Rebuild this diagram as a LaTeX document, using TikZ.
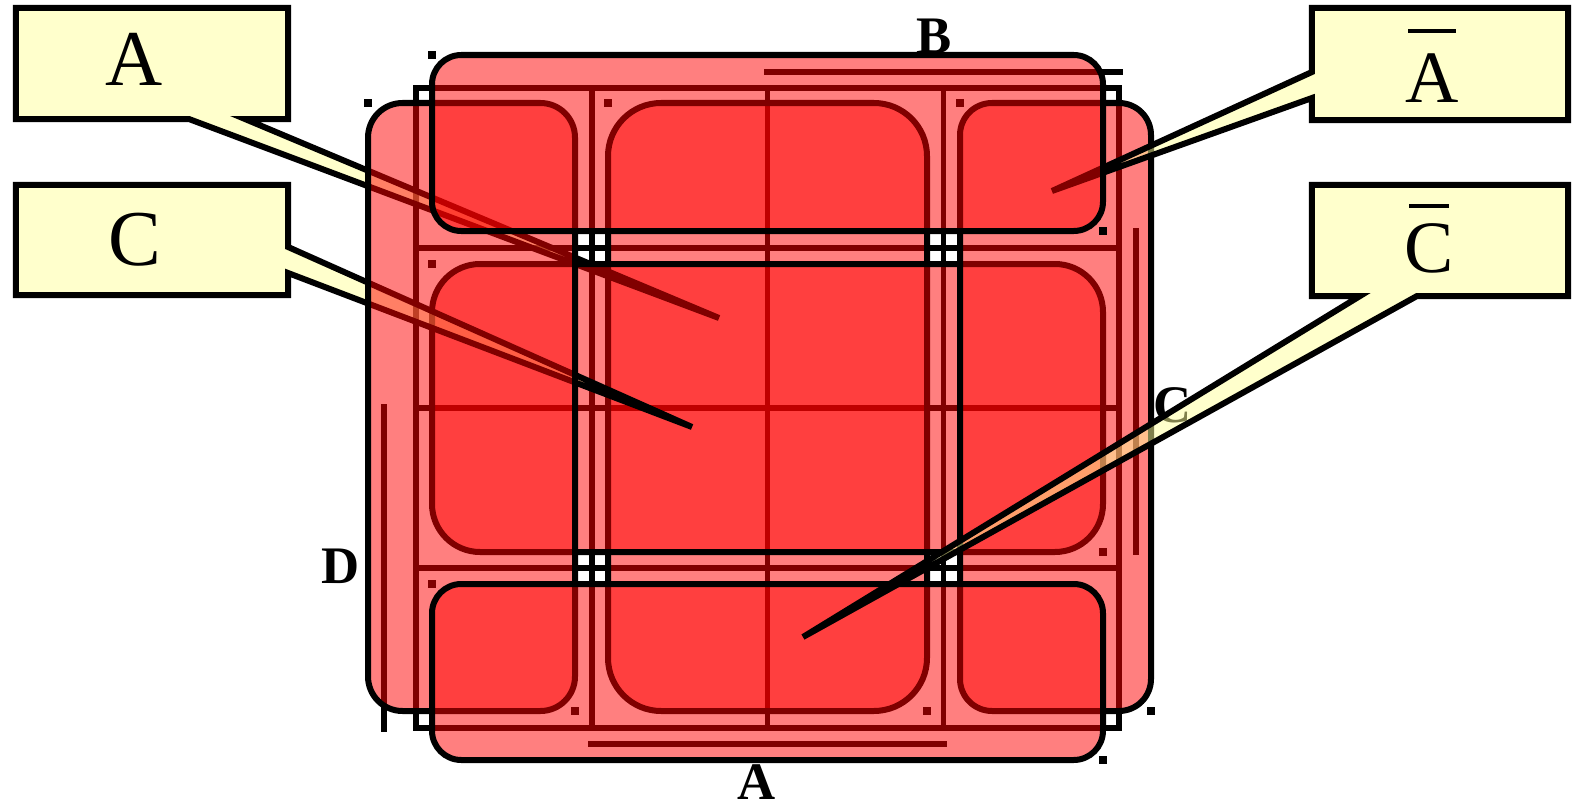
\documentclass[tikz,border=0pt]{standalone}
\usepackage{fontspec}
\setmainfont{Liberation Serif}
\usepackage{tikz}
\usetikzlibrary{calc}
\definecolor{groupRed}{HTML}{FF0000}
\definecolor{noteYellow}{HTML}{FFFF99}
\newcommand{\negbar}[3]{\ooalign{#3\cr\hidewidth\rule[#2]{#1}{0.055em}\hidewidth\cr}}

\begin{document}
\begin{tikzpicture}[x=0.01cm, y=-0.01cm,
  kmap/.style={draw=black,line width=0.055cm},
  grp/.style={draw=black,line width=0.06cm,fill=groupRed,fill opacity=0.5},
  note/.style={draw=black,line width=0.06cm,fill=noteYellow,fill opacity=0.5},
  notebox/.style={inner sep=0pt,outer sep=0pt},
  brk/.style={draw=black,line width=0.065cm},
  tag/.style={font=\fontsize{21}{25}\selectfont,inner sep=0pt,anchor=base},
  brlbl/.style={font=\fontsize{15}{18}\selectfont\bfseries,inner sep=0pt,anchor=base}]
\useasboundingbox (0,0) rectangle (1575,809);

% K-map grid
\draw[kmap] (416,88) rectangle (1119,728);
\foreach \i in {1,2,3} {
  \draw[kmap] (416+175.75*\i,88) -- (416+175.75*\i,728);
  \draw[kmap] (416,88+160*\i) -- (1119,88+160*\i);
}

% variable bars
\draw[brk] (764,72) -- (1123,72);
\draw[brk] (1136,228) -- (1136,555);
\draw[brk] (384,404) -- (384,732);
\draw[brk] (588,744) -- (947,744);
\node[brlbl] (lB) at (934,53) {B};
\node[brlbl] (lC) at (1173,422) {C};
\node[brlbl] (lD) at (341,583) {D};
\node[brlbl] (lA) at (757,799) {A};

% columns 2-3
\draw[grp,rounded corners=0.53cm] (608,103) rectangle (927,711);
\foreach \x/\y in {608/103, 927/711} \fill (\x-4,\y-4) rectangle ++(8,8);

% note A
\node[notebox,minimum width=2.72cm,minimum height=1.11cm] (boxA) at (152,63.5) {};
\coordinate (tipA) at (719,318);
\draw[note] (boxA.south west) -- (boxA.north west) -- (boxA.north east) -- (boxA.south east)
  -- ([xshift=2.29cm]boxA.south west) -- (tipA) -- ([xshift=1.73cm]boxA.south west) -- cycle;
\node[tag,font=\fontsize{22.5}{26}\selectfont] (tA) at (134,85) {A};

% rows 2-3
\draw[grp,rounded corners=0.48cm] (432,264) rectangle (1103,552);
\foreach \x/\y in {432/264, 1103/552, 432/584} \fill (\x-4,\y-4) rectangle ++(8,8);

% note C
\node[notebox,minimum width=2.72cm,minimum height=1.10cm] (boxC) at (152,240) {};
\coordinate (tipC) at (692,427);
\draw[note] (boxC.north west) -- (boxC.north east) -- ([yshift=-0.62cm]boxC.north east)
  -- (tipC) -- ([yshift=-0.88cm]boxC.north east) -- (boxC.south east) -- (boxC.south west) -- cycle;
\node[tag,font=\fontsize{22.5}{26}\selectfont] (tC) at (135,265) {C};

% column 1 and column 4
\draw[grp,rounded corners=0.345cm] (368,103) rectangle (575,711);
\foreach \x/\y in {368/103, 575/711} \fill (\x-4,\y-4) rectangle ++(8,8);
\draw[grp,rounded corners=0.32cm] (960,103) rectangle (1151,711);
\foreach \x/\y in {960/103, 1151/711} \fill (\x-4,\y-4) rectangle ++(8,8);

% note not-A
\node[notebox,minimum width=2.56cm,minimum height=1.12cm] (boxAq) at (1440,64) {};
\coordinate (tipAq) at (1052,191);
\draw[note] (boxAq.north west) -- (boxAq.north east) -- (boxAq.south east) -- (boxAq.south west)
  -- ([yshift=-0.90cm]boxAq.north west) -- (tipAq) -- ([yshift=-0.64cm]boxAq.north west) -- cycle;
\node[tag] (tAq) at (1432,103) {\negbar{0.65em}{0.95em}{A}};

% row 1 and row 4
\draw[grp,rounded corners=0.293cm] (432,55) rectangle (1103,231);
\foreach \x/\y in {432/55, 1103/231} \fill (\x-4,\y-4) rectangle ++(8,8);
\draw[grp,rounded corners=0.293cm] (432,584) rectangle (1103,760);
\foreach \x/\y in {1103/760} \fill (\x-4,\y-4) rectangle ++(8,8);

% note not-C
\node[notebox,minimum width=2.56cm,minimum height=1.11cm] (boxCq) at (1440,240.5) {};
\coordinate (tipCq) at (803,637);
\draw[note] (boxCq.north west) -- (boxCq.north east) -- (boxCq.south east)
  -- ([xshift=1.05cm]boxCq.south west) -- (tipCq) -- ([xshift=0.48cm]boxCq.south west) -- (boxCq.south west) -- cycle;
\node[tag] (tCq) at (1429,272) {\negbar{0.54em}{0.86em}{C}};
\end{tikzpicture}
\end{document}
